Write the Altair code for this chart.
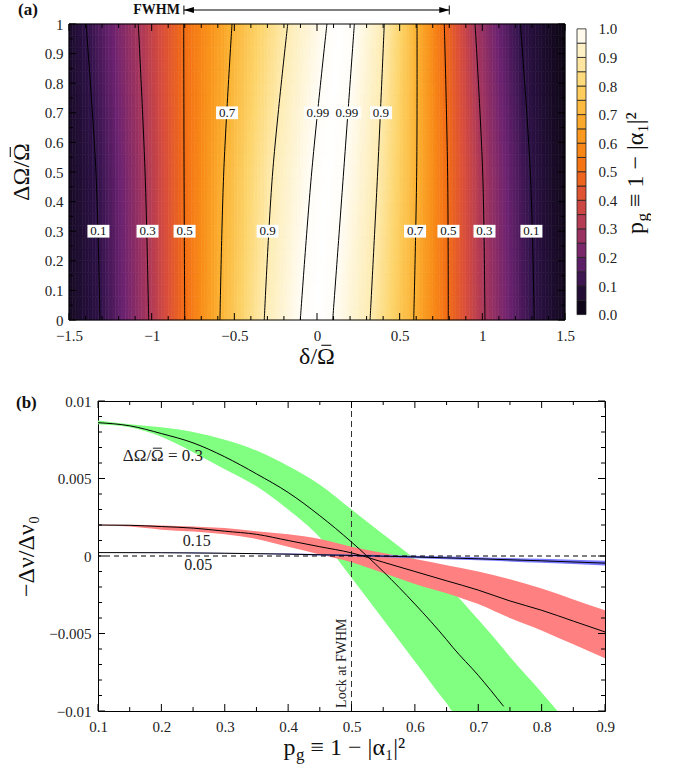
import altair as alt
import numpy as np
import pandas as pd

FONT = "Liberation Serif"

# ---------------- Panel (a): p_g map ----------------
contour_levels = [0.1, 0.3, 0.5, 0.7, 0.9, 0.99]
row_dOmega = [0.0, 0.5, 1.0]
# delta/Omega where each contour level is crossed (left flank), at dOmega = 0, 0.5, 1
left_cross = [
    [-1.313, -1.018, -0.800, -0.587, -0.319, -0.101],
    [-1.337, -1.040, -0.804, -0.564, -0.268, -0.032],
    [-1.397, -1.081, -0.806, -0.514, -0.177, 0.060],
]
# right flank
right_cross = [
    [1.314, 1.016, 0.794, 0.585, 0.321, 0.095],
    [1.290, 1.002, 0.790, 0.603, 0.367, 0.161],
    [1.230, 0.956, 0.770, 0.605, 0.407, 0.226],
]
edge_left = [0.04, 0.045, 0.055]
edge_right = [0.035, 0.025, 0.015]
peak_value = 1.0

label_text = ["0.7", "0.99", "0.99", "0.9", "0.1", "0.3", "0.5", "0.9", "0.7", "0.5", "0.3", "0.1"]
label_delta = [-0.544, 0.006, 0.18, 0.387, -1.322, -1.025, -0.801, -0.299, 0.593, 0.795, 1.013, 1.297]
label_dOmega = [0.7, 0.7, 0.7, 0.7, 0.3, 0.3, 0.3, 0.3, 0.3, 0.3, 0.3, 0.3]

fwhm_ends = [-0.805, 0.8]

a_x_domain = [-1.5, 1.5]
a_y_domain = [0, 1]
a_x_labels = [-1.5, -1, -0.5, 0, 0.5, 1, 1.5]
a_y_labels = [0, 0.1, 0.2, 0.3, 0.4, 0.5, 0.6, 0.7, 0.8, 0.9, 1.0]
cb_labels = [0, 0.1, 0.2, 0.3, 0.4, 0.5, 0.6, 0.7, 0.8, 0.9, 1.0]

# colour map
cmap_stops = [0.0, 0.1, 0.2, 0.3, 0.4, 0.5, 0.6, 0.7, 0.8, 0.9, 1.0]
cmap_colors = ["#050309", "#2e1248", "#6c2270", "#a8365c", "#d84c3c", "#f36c14",
               "#f98f18", "#fbb232", "#fdd46a", "#feecb2", "#ffffff"]

# ---------------- Panel (b): frequency shift curves ----------------
green_p = [0.1, 0.15, 0.2, 0.25, 0.3, 0.35, 0.4, 0.45, 0.5, 0.55, 0.6, 0.65, 0.66, 0.7, 0.74, 0.75, 0.8, 0.825]
green_upper = [0.00875, 0.0085, 0.0083, 0.0080, 0.0075, 0.0068, 0.0058, 0.0046, 0.0030, 0.0014, -0.0002,
               -0.0019, -0.0023, -0.0041, -0.0060, -0.0065, -0.0088, -0.0100]
green_lower = [0.0085, 0.0083, 0.0077, 0.0067, 0.0056, 0.0045, 0.0030, 0.0012, -0.0014, -0.0041, -0.0068,
               -0.0095, -0.0100, -0.0100, -0.0100, -0.0100, -0.0100, -0.0100]
green_center_p = [0.1, 0.15, 0.2, 0.25, 0.3, 0.35, 0.4, 0.45, 0.5, 0.55, 0.6, 0.65, 0.66, 0.7, 0.74]
green_center = [0.0086, 0.0084, 0.0079, 0.0073, 0.0064, 0.0053, 0.0041, 0.0026, 0.0009, -0.0010, -0.0031,
                -0.0054, -0.0059, -0.0077, -0.0097]

red_p = [0.1, 0.15, 0.2, 0.25, 0.3, 0.35, 0.4, 0.45, 0.5, 0.55, 0.6, 0.65, 0.7, 0.75, 0.8, 0.85, 0.9]
red_upper = [0.00202, 0.00201, 0.00197, 0.0019, 0.0018, 0.0016, 0.0014, 0.0011, 0.0006, 0.0002, -0.0002,
             -0.0006, -0.0010, -0.0015, -0.0021, -0.0028, -0.0035]
red_center = [0.0020, 0.00198, 0.0019, 0.0018, 0.0016, 0.0014, 0.0010, 0.0006, 0.0002, -0.0004, -0.0010,
              -0.0016, -0.0022, -0.0029, -0.0035, -0.0042, -0.0049]
red_lower = [0.00198, 0.0019, 0.0017, 0.00158, 0.0014, 0.0011, 0.0006, 0.0001, -0.0004, -0.0011, -0.0018,
             -0.0024, -0.0031, -0.0040, -0.0048, -0.0057, -0.0066]

blue_p = [0.1, 0.2, 0.3, 0.4, 0.5, 0.6, 0.7, 0.8, 0.9]
blue_upper = [0.00022, 0.00022, 0.0002, 0.00016, 0.0001, 0.00002, -0.00008, -0.00018, -0.00031]
blue_center = [0.00022, 0.00021, 0.00018, 0.00012, 0.00004, -0.00006, -0.00018, -0.00031, -0.00046]
blue_lower = [0.00022, 0.0002, 0.00016, 0.00008, -0.00002, -0.00014, -0.00028, -0.00044, -0.00061]

main_label_text = "ΔΩ/Ω = 0.3"          # the last Ω carries an overbar (drawn as a short rule)
main_label_p, main_label_v = 0.2025, 0.0061
small_label_text = ["0.15", "0.05"]
small_label_p = [0.256, 0.258]
small_label_v = [0.00097, -0.00058]
lock_p = [0.5]
zero_level = [0.0]

b_x_domain = [0.1, 0.9]
b_y_domain = [-0.01, 0.01]
b_x_labels = [0.1, 0.2, 0.3, 0.4, 0.5, 0.6, 0.7, 0.8, 0.9]
b_y_labels = [-0.01, -0.005, 0, 0.005, 0.01]

# ---------------- geometry / helpers ----------------
SHIFT_A = 29                 # panel (a) plot area starts 29 px left of panel (b)
WA, HA = 496, 296
WA_VIEW = WA - SHIFT_A
WB, HB = 507, 310
TF = 24                      # axis-title font size
one = pd.DataFrame({"k": [0]})

color_scale = alt.Scale(type="linear", domain=cmap_stops, range=cmap_colors, interpolate="rgb")


def txt(text, x, y, size=TF, angle=0, align="center", dx=0, dy=0, weight="normal", color="#111"):
    kw = dict(font=FONT, fontSize=size, align=align, baseline="alphabetic", color=color,
              fontWeight=weight, dx=dx, dy=dy)
    if angle:
        kw["angle"] = angle
    return alt.Chart(one).mark_text(**kw).encode(x=alt.value(x), y=alt.value(y), text=alt.value(text))


def bar_rule(x1, x2, y1, y2):
    return alt.Chart(one).mark_rule(color="#111", strokeWidth=1.1).encode(
        x=alt.value(x1), x2=alt.value(x2), y=alt.value(y1), y2=alt.value(y2))


def tick_layers(xscale, yscale, xaxis, yaxis, xmaj, xmin, ymaj, ymin, XL, XR, H, lmaj=7, lmin=4):
    out = []
    for vals, L in [(xmaj, lmaj), (xmin, lmin)]:
        base = alt.Chart(pd.DataFrame({"t": vals})).mark_rule(color="black", strokeWidth=1)
        xe = alt.X("t:Q", scale=xscale, axis=xaxis)
        out.append(base.encode(x=xe, y=alt.value(H), y2=alt.value(H - L)))
        out.append(base.encode(x=xe, y=alt.value(0), y2=alt.value(L)))
    for vals, L in [(ymaj, lmaj), (ymin, lmin)]:
        base = alt.Chart(pd.DataFrame({"t": vals})).mark_rule(color="black", strokeWidth=1)
        ye = alt.Y("t:Q", scale=yscale, axis=yaxis)
        out.append(base.encode(y=ye, x=alt.value(XL), x2=alt.value(XL + L)))
        out.append(base.encode(y=ye, x=alt.value(XR), x2=alt.value(XR - L)))
    return out


# ---------------- panel (a) ----------------
xs_a = alt.Scale(domain=a_x_domain, range=[-SHIFT_A, WA_VIEW], nice=False, zero=False)
ys_a = alt.Scale(domain=a_y_domain, nice=False, zero=False)

n_rows = 25
d_step = 0.02
x_edges = np.round(np.arange(-1.5, 1.5 + 1e-9, d_step), 4)
x_cent = (x_edges[:-1] + x_edges[1:]) / 2
recs = []
for i in range(n_rows):
    y0, y1 = i / n_rows, (i + 1) / n_rows
    r = (y0 + y1) / 2
    L = [np.interp(r, row_dOmega, [left_cross[k][j] for k in range(3)]) for j in range(6)]
    R = [np.interp(r, row_dOmega, [right_cross[k][j] for k in range(3)]) for j in range(6)]
    eL = np.interp(r, row_dOmega, edge_left)
    eR = np.interp(r, row_dOmega, edge_right)
    c = (L[-1] + R[-1]) / 2
    px = [-1.5] + L + [c] + R[::-1] + [1.5]
    pv = [eL] + contour_levels + [peak_value] + contour_levels[::-1] + [eR]
    vals = np.interp(x_cent, px, pv)
    for j in range(len(x_cent)):
        recs.append((x_edges[j], x_edges[j + 1], y0, y1, round(float(vals[j]), 4)))
heat_df = pd.DataFrame(recs, columns=["x0", "x1", "y0", "y1", "p"])

axis_x_a = alt.Axis(values=a_x_labels, format="~g", ticks=False, tickSize=0, domain=False, grid=False,
                    labelPadding=8, labelFlush=False, labelOverlap=False, title=None)
axis_y_a = alt.Axis(values=a_y_labels, format="~g", ticks=False, tickSize=0, domain=False, grid=False,
                    labelPadding=6, labelFlush=False, labelOverlap=False, title=None, offset=SHIFT_A)

XA = lambda f: alt.X(f, scale=xs_a, axis=axis_x_a)
YA = lambda f: alt.Y(f, scale=ys_a, axis=axis_y_a)

heat = alt.Chart(heat_df).mark_rect(strokeWidth=0.6).encode(
    x=XA("x0:Q"), x2="x1", y=YA("y0:Q"), y2="y1",
    color=alt.Color("p:Q", scale=color_scale, legend=None),
    stroke=alt.Stroke("p:Q", scale=color_scale, legend=None),
)

frame_a = alt.Chart(pd.DataFrame({"x0": [a_x_domain[0]], "x1": [a_x_domain[1]],
                                  "y0": [a_y_domain[0]], "y1": [a_y_domain[1]]})).mark_rect(
    filled=False, stroke="black", strokeWidth=1).encode(x=XA("x0:Q"), x2="x1", y=YA("y0:Q"), y2="y1")

crec = []
for j, lev in enumerate(contour_levels):
    for k in range(3):
        crec.append((f"L{lev}", left_cross[k][j], row_dOmega[k]))
        crec.append((f"R{lev}", right_cross[k][j], row_dOmega[k]))
cont_df = pd.DataFrame(crec, columns=["key", "d", "w"])
contours = alt.Chart(cont_df).mark_line(color="black", strokeWidth=1, interpolate="catmull-rom").encode(
    x=XA("d:Q"), y=YA("w:Q"), detail="key:N", order="w:Q",
)

lab_df = pd.DataFrame({"t": label_text, "d": label_delta, "w": label_dOmega})
lab_df["n"] = lab_df["t"].str.len()
box3 = alt.Chart(lab_df).transform_filter("datum.n == 3").mark_point(
    shape="M-1,-0.58L1,-0.58L1,0.58L-1,0.58Z", size=484, filled=True, color="white", opacity=1
).encode(x=XA("d:Q"), y=YA("w:Q"))
box4 = alt.Chart(lab_df).transform_filter("datum.n == 4").mark_point(
    shape="M-1,-0.45L1,-0.45L1,0.45L-1,0.45Z", size=784, filled=True, color="white", opacity=1
).encode(x=XA("d:Q"), y=YA("w:Q"))
labs = alt.Chart(lab_df).mark_text(font=FONT, fontSize=13, baseline="middle", color="#111").encode(
    x=XA("d:Q"), y=YA("w:Q"), text="t:N"
)

fw_df = pd.DataFrame({"a": [fwhm_ends[0]], "b": [fwhm_ends[1]]})
fw_line = alt.Chart(fw_df).mark_rule(color="black", strokeWidth=1).encode(
    x=XA("a:Q"), x2="b", y=alt.value(-14)
)
fw_pts = pd.DataFrame({"t": fwhm_ends})
fw_head_l = alt.Chart(fw_pts.iloc[[0]]).mark_point(
    shape="M0,0L2,-0.6L2,0.6Z", size=100, filled=True, color="black", opacity=1
).encode(x=XA("t:Q"), y=alt.value(-14))
fw_head_r = alt.Chart(fw_pts.iloc[[1]]).mark_point(
    shape="M0,0L-2,-0.6L-2,0.6Z", size=100, filled=True, color="black", opacity=1
).encode(x=XA("t:Q"), y=alt.value(-14))
fw_bars = alt.Chart(fw_pts).mark_rule(color="black", strokeWidth=1).encode(
    x=XA("t:Q"), y=alt.value(-18.5), y2=alt.value(-9.5)
)
fw_text = alt.Chart(fw_pts.iloc[[0]]).mark_text(
    font=FONT, fontSize=14, fontWeight="bold", align="right", baseline="middle", dx=-4, color="#111"
).encode(x=XA("t:Q"), y=alt.value(-14), text=alt.value("FWHM"))

X0A = -SHIFT_A               # left edge of panel (a) plot area in its view coordinates
tag_a = alt.Chart(one).mark_text(font=FONT, fontSize=17, fontWeight="bold", align="left",
                                 baseline="middle", color="#111").encode(
    x=alt.value(X0A - 51), y=alt.value(-14), text=alt.value("(a)"))
anchor_a = alt.Chart(one).mark_rule(opacity=0).encode(
    x=alt.value(X0A - 64), y=alt.value(-24), y2=alt.value(354))

# axis titles of (a): δ/Ω̄ and ΔΩ/Ω̄ (overbar over the last Ω drawn as a short rule)
em = TF
xc = X0A + WA / 2
xt_a = txt("δ/Ω", xc, HA + 44)
xt_a_bar = bar_rule(xc + 0.389 * em - 5, xc + 0.389 * em + 5, HA + 44 - 0.78 * em, HA + 44 - 0.78 * em)
ybase = X0A - 40
yt_a = txt("ΔΩ/Ω", ybase, HA / 2, angle=270)
yt_a_bar = bar_rule(ybase - 0.78 * em, ybase - 0.78 * em, HA / 2 - 0.829 * em - 5, HA / 2 - 0.829 * em + 5)

a_x_minor = [round(v, 2) for v in np.arange(-1.4, 1.45, 0.1) if abs(round(v * 2) - v * 2) > 1e-6]
a_y_minor = [round(v, 2) for v in np.arange(0.05, 1.0, 0.1)]
ticks_a = tick_layers(xs_a, ys_a, axis_x_a, axis_y_a, a_x_labels, a_x_minor, a_y_labels, a_y_minor,
                      X0A, WA_VIEW, HA)

panel_a = alt.layer(heat, contours, box3, box4, labs, frame_a, *ticks_a, fw_line, fw_head_l, fw_head_r,
                    fw_bars, fw_text, tag_a, xt_a, xt_a_bar, yt_a, yt_a_bar, anchor_a
                    ).properties(width=WA_VIEW, height=HA, view=alt.ViewBackground(strokeOpacity=0))

# colour bar
cb_lo = [round(0.05 * i, 2) for i in range(20)]
cb_df = pd.DataFrame({"lo": cb_lo, "hi": [round(v + 0.05, 2) for v in cb_lo],
                      "mid": [round(v + 0.025, 3) for v in cb_lo]})
cb_bars = alt.Chart(cb_df).mark_rect(stroke="#222", strokeWidth=0.8).encode(
    x=alt.value(0), x2=alt.value(9),
    y=alt.Y("lo:Q", scale=alt.Scale(domain=[-0.019, 1.017], nice=False, zero=False),
            axis=alt.Axis(orient="right", values=cb_labels, format=".1f", ticks=False, tickSize=0,
                          domain=False, grid=False, labelPadding=12, labelFlush=False,
                          labelOverlap=False, title=None)),
    y2="hi",
    color=alt.Color("mid:Q", scale=color_scale, legend=None),
)
# title p_g ≡ 1 − |α₁|² read bottom-to-top
cb_ybot = HA / 2 + 62
cb_title = alt.layer(
    txt("p", 66, cb_ybot, angle=270, align="left"),
    txt("g", 66, cb_ybot - 12.5, size=17, angle=270, align="left", dy=5),
    txt("≡ 1 − |α₁|²", 66, cb_ybot - 27, angle=270, align="left"),
)
colorbar = alt.layer(cb_bars, cb_title).properties(
    width=9, height=HA, view=alt.ViewBackground(strokeOpacity=0))

# ---------------- panel (b) ----------------
xs_b = alt.Scale(domain=b_x_domain, nice=False, zero=False)
ys_b = alt.Scale(domain=b_y_domain, nice=False, zero=False)

axis_x_b = alt.Axis(values=b_x_labels, format=".1f", ticks=False, tickSize=0, domain=False, grid=False,
                    labelPadding=8, labelFlush=False, labelOverlap=False, title=None)
axis_y_b = alt.Axis(values=b_y_labels, format="~g", ticks=False, tickSize=0, domain=False, grid=False,
                    labelPadding=7, labelFlush=False, labelOverlap=False, title="−Δν/Δν₀",
                    titleFontSize=TF, titlePadding=10)

XB = lambda f: alt.X(f, scale=xs_b, axis=axis_x_b)
YB = lambda f: alt.Y(f, scale=ys_b, axis=axis_y_b)

g_df = pd.DataFrame({"p": green_p, "u": green_upper, "l": green_lower})
r_df = pd.DataFrame({"p": red_p, "u": red_upper, "l": red_lower, "c": red_center})
bl_df = pd.DataFrame({"p": blue_p, "u": blue_upper, "l": blue_lower, "c": blue_center})
gc_df = pd.DataFrame({"p": green_center_p, "c": green_center})

g_area = alt.Chart(g_df).mark_area(color="#80ff80", opacity=1, clip=True, interpolate="monotone").encode(
    x=XB("p:Q"), y=YB("u:Q"), y2="l")
r_area = alt.Chart(r_df).mark_area(color="#ff8080", opacity=1, clip=True, interpolate="monotone").encode(
    x=XB("p:Q"), y=YB("u:Q"), y2="l")
b_area = alt.Chart(bl_df).mark_area(color="#7878ff", opacity=1, clip=True, interpolate="monotone").encode(
    x=XB("p:Q"), y=YB("u:Q"), y2="l")

zero_rule = alt.Chart(pd.DataFrame({"v": zero_level})).mark_rule(
    color="black", strokeWidth=1, strokeDash=[5, 4]).encode(y=YB("v:Q"))
lock_rule = alt.Chart(pd.DataFrame({"v": lock_p})).mark_rule(
    color="#333", strokeWidth=1, strokeDash=[6, 4]).encode(x=XB("v:Q"))


def center_line(df):
    return alt.Chart(df).mark_line(color="black", strokeWidth=1, clip=True, interpolate="monotone").encode(
        x=XB("p:Q"), y=YB("c:Q"))


FL = 17
px_per_p = WB / (b_x_domain[1] - b_x_domain[0])
px_per_v = HB / (b_y_domain[1] - b_y_domain[0])
ml_df = pd.DataFrame({"t": [main_label_text], "p": [main_label_p], "v": [main_label_v]})
main_label = alt.Chart(ml_df).mark_text(font=FONT, fontSize=FL, baseline="alphabetic", color="#222").encode(
    x=XB("p:Q"), y=YB("v:Q"), text="t:N")
bar_c = main_label_p - 0.328 * FL / px_per_p
bar_df = pd.DataFrame({"a": [bar_c - 4.5 / px_per_p], "b": [bar_c + 4.5 / px_per_p],
                       "v": [main_label_v + 0.78 * FL / px_per_v]})
main_label_bar = alt.Chart(bar_df).mark_rule(color="#222", strokeWidth=1).encode(
    x=XB("a:Q"), x2="b", y=YB("v:Q"))
sl_df = pd.DataFrame({"t": small_label_text, "p": small_label_p, "v": small_label_v})
small_labels = alt.Chart(sl_df).mark_text(font=FONT, fontSize=16, baseline="middle", color="#222").encode(
    x=XB("p:Q"), y=YB("v:Q"), text="t:N")
lock_text = alt.Chart(pd.DataFrame({"p": lock_p, "v": [-0.0098]})).mark_text(
    font=FONT, fontSize=14, angle=270, align="left", baseline="bottom", dy=-3, color="#222").encode(
    x=XB("p:Q"), y=YB("v:Q"), text=alt.value("Lock at FWHM"))

tag_b = alt.Chart(one).mark_text(font=FONT, fontSize=17, fontWeight="bold", align="left",
                                 baseline="middle", color="#111").encode(
    x=alt.value(-82), y=alt.value(1.5), text=alt.value("(b)"))
anchor_b = alt.Chart(one).mark_rule(opacity=0).encode(
    x=alt.value(-93), y=alt.value(-12), y2=alt.value(HB + 40))

# x title p_g ≡ 1 − |α₁|²
xb0 = WB / 2 - 68
xt_b = alt.layer(
    txt("p", xb0, HB + 44, align="left"),
    txt("g", xb0 + 12.5, HB + 44, size=17, align="left", dy=5),
    txt("≡ 1 − |α₁|²", xb0 + 27, HB + 44, align="left"),
)

b_x_minor = [0.15, 0.25, 0.35, 0.45, 0.55, 0.65, 0.75, 0.85]
b_y_minor = [round(v, 4) for v in np.arange(-0.009, 0.0095, 0.001) if abs(round(v / 0.005) * 0.005 - v) > 1e-7]
ticks_b = tick_layers(xs_b, ys_b, axis_x_b, axis_y_b, b_x_labels, b_x_minor, b_y_labels, b_y_minor,
                      0, WB, HB)

panel_b = alt.layer(g_area, r_area, b_area, zero_rule, lock_rule, center_line(gc_df),
                    center_line(r_df), center_line(bl_df), *ticks_b, main_label, main_label_bar,
                    small_labels, lock_text, tag_b, xt_b, anchor_b
                    ).properties(width=WB, height=HB)

top = alt.hconcat(panel_a, colorbar, spacing=12, bounds="flush")
chart = alt.vconcat(top, panel_b, spacing=10).properties(
    padding={"left": 4, "top": 0, "right": 0, "bottom": 0}
).configure_view(stroke="black", strokeWidth=1).configure_axis(
    labelFont=FONT, titleFont=FONT, labelFontSize=15, labelColor="#222", titleColor="#111",
    titleFontWeight="normal"
)

chart.save("out.html", embed_options={"renderer": "svg", "actions": False})
